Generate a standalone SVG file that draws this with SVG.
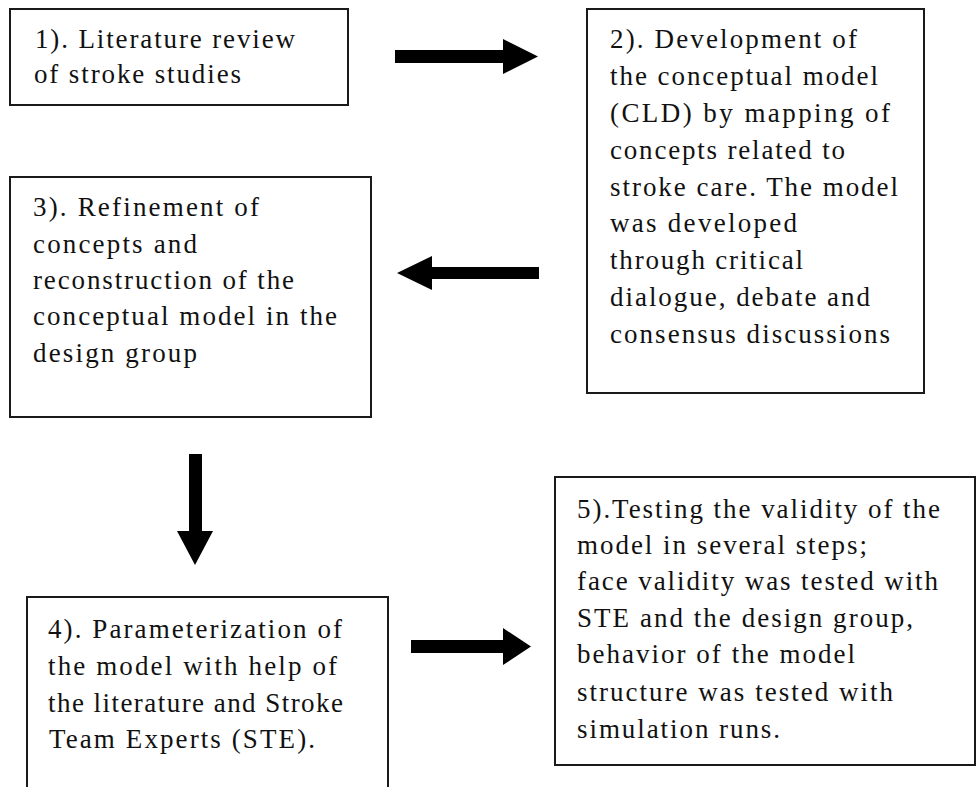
<svg xmlns="http://www.w3.org/2000/svg" width="977" height="787" viewBox="0 0 977 787">
<style>
.box{fill:#ffffff;stroke:#1a1a1a;stroke-width:2}
.t{font-family:"Liberation Serif","Times New Roman",serif;font-size:27px;fill:#111111}
.arr{fill:#000000}
</style>
<rect x="0" y="0" width="977" height="787" fill="#ffffff"/>
<g id="node1">
<rect class="box" x="10" y="9" width="338" height="96"/>
<text class="t" x="35" y="48" textLength="260" lengthAdjust="spacing">1). Literature review</text>
<text class="t" x="34" y="83" textLength="207" lengthAdjust="spacing">of stroke studies</text>
</g>
<g id="node2">
<rect class="box" x="587" y="9" width="337" height="384"/>
<text class="t" x="610" y="48" textLength="247" lengthAdjust="spacing">2). Development of</text>
<text class="t" x="610" y="85" textLength="268" lengthAdjust="spacing">the conceptual model</text>
<text class="t" x="610" y="122" textLength="280" lengthAdjust="spacing">(CLD) by mapping of</text>
<text class="t" x="610" y="159" textLength="235" lengthAdjust="spacing">concepts related to</text>
<text class="t" x="610" y="196" textLength="288" lengthAdjust="spacing">stroke care. The model</text>
<text class="t" x="610" y="232" textLength="187" lengthAdjust="spacing">was developed</text>
<text class="t" x="610" y="269" textLength="193" lengthAdjust="spacing">through critical</text>
<text class="t" x="610" y="306" textLength="260" lengthAdjust="spacing">dialogue, debate and</text>
<text class="t" x="610" y="343" textLength="280" lengthAdjust="spacing">consensus discussions</text>
</g>
<g id="node3">
<rect class="box" x="10" y="177" width="361" height="240"/>
<text class="t" x="33" y="216" textLength="226" lengthAdjust="spacing">3). Refinement of</text>
<text class="t" x="33" y="253" textLength="164" lengthAdjust="spacing">concepts and</text>
<text class="t" x="33" y="289" textLength="261" lengthAdjust="spacing">reconstruction of the</text>
<text class="t" x="33" y="325" textLength="304" lengthAdjust="spacing">conceptual model in the</text>
<text class="t" x="33" y="362" textLength="164" lengthAdjust="spacing">design group</text>
</g>
<g id="node4">
<rect class="box" x="27" y="597" width="361" height="220"/>
<text class="t" x="48" y="638" textLength="294" lengthAdjust="spacing">4). Parameterization of</text>
<text class="t" x="48" y="675" textLength="289" lengthAdjust="spacing">the model with help of</text>
<text class="t" x="48" y="712" textLength="295" lengthAdjust="spacing">the literature and Stroke</text>
<text class="t" x="49" y="748" textLength="266" lengthAdjust="spacing">Team Experts (STE).</text>
</g>
<g id="node5">
<rect class="box" x="555" y="477" width="420" height="288"/>
<text class="t" x="577" y="518" textLength="363" lengthAdjust="spacing">5).Testing the validity of the</text>
<text class="t" x="577" y="554" textLength="290" lengthAdjust="spacing">model in several steps;</text>
<text class="t" x="577" y="590" textLength="361" lengthAdjust="spacing">face validity was tested with</text>
<text class="t" x="577" y="627" textLength="336" lengthAdjust="spacing">STE and the design group,</text>
<text class="t" x="577" y="663" textLength="278" lengthAdjust="spacing">behavior of the model</text>
<text class="t" x="577" y="701" textLength="316" lengthAdjust="spacing">structure was tested with</text>
<text class="t" x="577" y="738" textLength="203" lengthAdjust="spacing">simulation runs.</text>
</g>
<g id="connectors">
<polygon class="arr" points="395,50 503,50 503,39 538,56.5 503,74 503,63 395,63"/>
<polygon class="arr" points="539,267 432,267 432,256 397,273 432,290 432,279 539,279"/>
<polygon class="arr" points="189,454 202,454 202,531 213,531 195,565 177,531 189,531"/>
<polygon class="arr" points="411,640 503,640 503,628 531,646.5 503,665 503,653 411,653"/>
</g>
</svg>
